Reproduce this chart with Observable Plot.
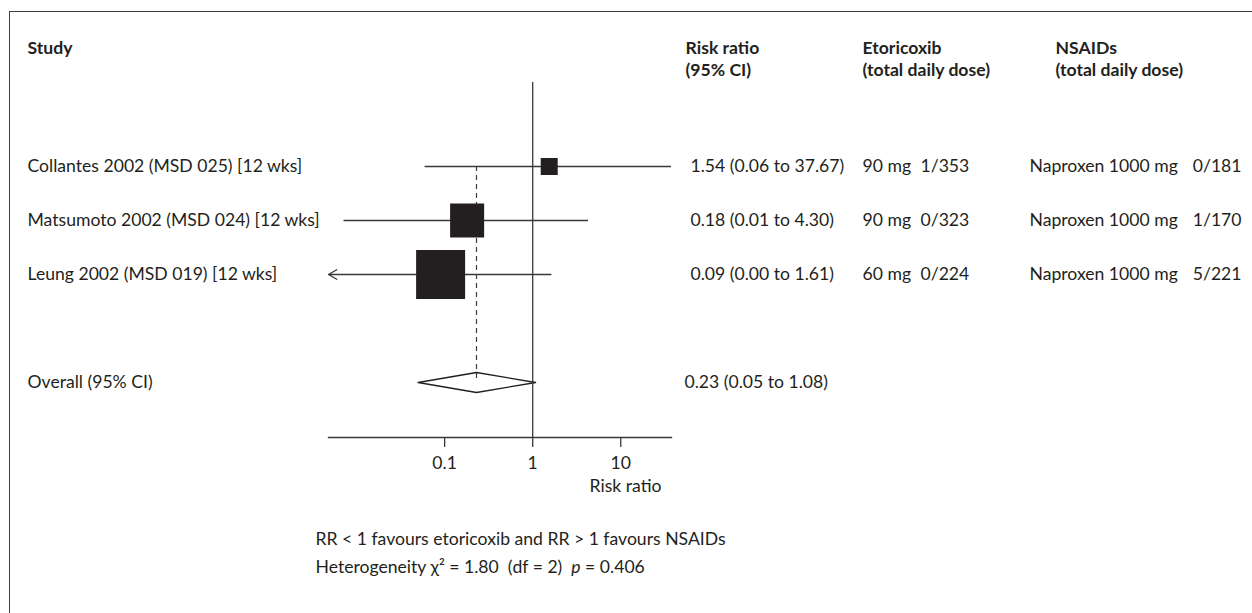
<!DOCTYPE html>
<html><head><meta charset="utf-8">
<script src="https://cdn.jsdelivr.net/npm/d3@7"></script>
<script src="https://cdn.jsdelivr.net/npm/@observablehq/plot@0.6"></script>
<style>
html,body{margin:0;padding:0;background:#fff;}
#wrap{position:relative;width:1252px;height:613px;overflow:hidden;}
#frame{position:absolute;left:9px;top:11px;right:-5px;bottom:-5px;border-top:1.5px solid #3c3c3c;border-left:1.5px solid #3c3c3c;}
#chart{position:absolute;left:0;top:0;}
</style></head><body>
<div id="wrap"><div id="frame"></div><div id="chart"></div></div>
<script>
// ---- data ----
const studies = ["Collantes 2002 (MSD 025) [12 wks]", "Matsumoto 2002 (MSD 024) [12 wks]", "Leung 2002 (MSD 019) [12 wks]"];
const rowIndex = [0, 1, 2];
const rr = [1.54, 0.18, 0.09];
const lowerCI = [0.06, 0.0072, 0.001];
const upperCI = [37.67, 4.30, 1.61];
const weights = [7.5, 30.1, 62.4];
const ciLabels = ["1.54 (0.06 to 37.67)", "0.18 (0.01 to 4.30)", "0.09 (0.00 to 1.61)"];
const etoDose = ["90 mg", "90 mg", "60 mg"];
const etoEvents = ["1/353", "0/323", "0/224"];
const nsaidDose = ["Naproxen 1000 mg", "Naproxen 1000 mg", "Naproxen 1000 mg"];
const nsaidEvents = ["0/181", "1/170", "5/221"];
const overallLabel = "Overall (95% CI)";
const overallRow = 4;
const overallRR = 0.23, overallLower = 0.05, overallUpper = 1.08;
const overallText = "0.23 (0.05 to 1.08)";
const headers = ["Study", "Risk ratio\n(95% CI)", "Etoricoxib\n(total daily dose)", "NSAIDs\n(total daily dose)"];
const xDomain = [0.0048, 37.67];
const xTicks = [0.1, 1, 10];
const xTickLabels = ["0.1", "1", "10"];
const xLabel = "Risk ratio";
const note1 = "RR < 1 favours etoricoxib and RR > 1 favours NSAIDs";
const note2 = "Heterogeneity χ² = 1.80  (df = 2)  p = 0.406";

// ---- layout / style ----
const W = 1252, H = 613;
const frameTop = 82, axisY = 437, xLeft = 328, xRight = 671;
const rowTop = 166, rowPx = 54;
const ink = "#231f20", lineC = "#3a3a3a", lw = 1.3;
const col = {study: 27, ci: 690, etoDose: 862, etoEv: 920, nsDose: 1029, nsEvEnd: 1241};
const hdrX = [27, 685, 862, 1055];
const fs = 17.6;

const truncated = rowIndex.filter(i => lowerCI[i] < xDomain[0]);
const full = rowIndex.filter(i => lowerCI[i] >= xDomain[0]);
const halfH = 10 / rowPx;
const diamond = [
  {x: overallLower, y: overallRow},
  {x: overallRR, y: overallRow - halfH},
  {x: overallUpper, y: overallRow},
  {x: overallRR, y: overallRow + halfH},
  {x: overallLower, y: overallRow}
];

const colText = (arr, x, extra = {}) => Plot.text(rowIndex, {
  y: i => i, text: i => arr[i], frameAnchor: "left", textAnchor: "start", dx: x - xLeft, fill: ink, ...extra
});

const plot = Plot.plot({
  width: W, height: H,
  marginLeft: xLeft, marginRight: W - xRight, marginTop: frameTop, marginBottom: H - axisY,
  style: {fontFamily: "Lato, 'Open Sans', sans-serif", fontSize: fs + "px", color: ink, background: "transparent", overflow: "visible"},
  x: {type: "log", domain: xDomain},
  y: {type: "linear", domain: [0, overallRow], range: [rowTop, rowTop + overallRow * rowPx], axis: null},
  r: {type: "sqrt", domain: [0, d3.max(weights)], range: [0, 49 / Math.sqrt(Math.PI)]},
  marks: [
    Plot.line(diamond, {x: "x", y: "y", stroke: ink, strokeWidth: lw, fill: "white"}),
    Plot.ruleX([1], {stroke: lineC, strokeWidth: lw}),
    Plot.ruleX([overallRR], {y1: () => 0, y2: () => overallRow, stroke: lineC, strokeWidth: 1.2, strokeDasharray: "5,4"}),
    Plot.ruleY(full, {y: i => i, x1: i => lowerCI[i], x2: i => upperCI[i], stroke: lineC, strokeWidth: lw}),
    Plot.arrow(truncated, {x1: i => upperCI[i], y1: i => i, x2: () => xDomain[0], y2: i => i, stroke: lineC, strokeWidth: lw, headLength: 11, headAngle: 60}),
    Plot.dot(rowIndex, {x: i => rr[i], y: i => i, r: i => weights[i], symbol: "square", fill: ink, stroke: "none"}),
    Plot.frame({anchor: "bottom", stroke: lineC, strokeWidth: lw}),
    Plot.axisX(xTicks, {anchor: "bottom", tickSize: 10, tickPadding: 9, stroke: lineC, strokeWidth: lw, fill: ink, fontSize: fs, tickFormat: d => xTickLabels[xTicks.indexOf(d)], label: null}),
    Plot.text([xLabel], {frameAnchor: "bottom-right", textAnchor: "end", dx: -10, dy: 54, fill: ink}),
    // table
    colText(studies, col.study),
    colText(ciLabels, col.ci),
    colText(etoDose, col.etoDose),
    colText(etoEvents, col.etoEv),
    colText(nsaidDose, col.nsDose),
    colText(nsaidEvents, col.nsEvEnd, {textAnchor: "end"}),
    Plot.text([overallLabel], {y: () => overallRow, frameAnchor: "left", textAnchor: "start", dx: col.study - xLeft, fill: ink}),
    Plot.text([overallText], {y: () => overallRow, frameAnchor: "left", textAnchor: "start", dx: col.ci - xLeft - 6, fill: ink}),
    ...headers.map((h, i) => Plot.text([h], {
      frameAnchor: "top-left", textAnchor: "start", lineAnchor: "top", lineHeight: 1.25,
      dx: hdrX[i] - xLeft, dy: 38 - frameTop, fill: ink, fontWeight: "bold"
    })),
    Plot.text([note1], {frameAnchor: "bottom-left", textAnchor: "start", dx: 315 - xLeft, dy: 107, fill: ink}),
    Plot.text([note2], {frameAnchor: "bottom-left", textAnchor: "start", dx: 315 - xLeft, dy: 135, fill: ink})
  ]
});
document.getElementById("chart").appendChild(plot);

// italic p in the heterogeneity note
d3.select(plot).selectAll("text").each(function() {
  if (this.textContent === note2) {
    const parts = note2.split("p = ");
    this.textContent = parts[0];
    d3.select(this).append("tspan").attr("font-style", "italic").text("p");
    d3.select(this).append("tspan").text(" = " + parts[1]);
  }
});
</script>
</body></html>
